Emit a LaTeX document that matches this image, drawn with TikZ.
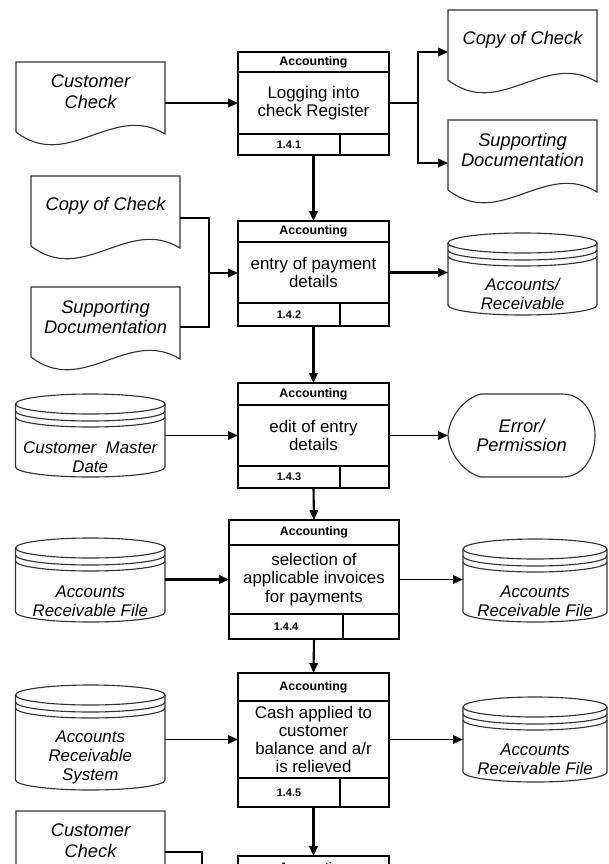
\documentclass[tikz,border=0pt]{standalone}
\usepackage{fontspec}
\setmainfont{Liberation Sans}
\usetikzlibrary{positioning,arrows.meta,calc}
\newlength{\pxu}
\setlength{\pxu}{0.025cm}

\begin{document}
\begin{tikzpicture}[x=0.025cm, y=-0.025cm, >={Triangle[length=7pt,width=6pt]},
  procbox/.style={draw, line width=2pt, inner sep=0pt, outer sep=0pt, align=center},
  prochead/.style={procbox, font=\bfseries\fontsize{8.8}{10}\selectfont},
  procbody/.style={procbox, font=\fontsize{12}{12.9}\selectfont},
  procnum/.style={procbox, font=\bfseries\fontsize{7.8}{9}\selectfont},
  docu/.style={inner sep=0pt, outer sep=0pt, minimum width=149*\pxu, minimum height=60*\pxu, align=center, font=\itshape\fontsize{13}{14.8}\selectfont},
  drum/.style={inner sep=0pt, outer sep=0pt},
  drumtxt/.style={inner sep=0pt, align=center, font=\itshape\fontsize{12}{13.5}\selectfont},
  errbox/.style={inner sep=0pt, outer sep=0pt, align=center, font=\itshape\fontsize{13}{13.8}\selectfont},
  outline/.style={draw=black!80, line width=0.8pt},
  flow/.style={->, line width=1.5pt},
  thinflow/.style={->, line width=0.8pt},
  link/.style={line width=1.5pt}]

  \useasboundingbox (0,0) rectangle (608,864);
  \clip (0,0) rectangle (608,864);
  \fill[white] (0,0) rectangle (608,864);

  % process boxes
  \node[procbody, minimum width=151*\pxu, minimum height=62*\pxu] (p1b) at (313.5,103) {Logging into\\check Register};
  \node[prochead, minimum width=151*\pxu, minimum height=20*\pxu, above=0pt of p1b] (p1h) {Accounting};
  \node[procnum, minimum width=102*\pxu, minimum height=21*\pxu, below right=0pt and 0pt of p1b.south west] (p1n) {1.4.1};
  \node[procnum, minimum width=49*\pxu, minimum height=21*\pxu, right=0pt of p1n] (p1x) {};

  \node[procbody, minimum width=151*\pxu, minimum height=61*\pxu] (p2b) at (313.5,272.5) {entry of payment\\details};
  \node[prochead, minimum width=151*\pxu, minimum height=21*\pxu, above=0pt of p2b] (p2h) {Accounting};
  \node[procnum, minimum width=102*\pxu, minimum height=23*\pxu, below right=0pt and 0pt of p2b.south west] (p2n) {1.4.2};
  \node[procnum, minimum width=49*\pxu, minimum height=23*\pxu, right=0pt of p2n] (p2x) {};

  \node[procbody, minimum width=151*\pxu, minimum height=61*\pxu] (p3b) at (313.5,435.5) {edit of entry\\details};
  \node[prochead, minimum width=151*\pxu, minimum height=22*\pxu, above=0pt of p3b] (p3h) {Accounting};
  \node[procnum, minimum width=102*\pxu, minimum height=22*\pxu, below right=0pt and 0pt of p3b.south west] (p3n) {1.4.3};
  \node[procnum, minimum width=49*\pxu, minimum height=22*\pxu, right=0pt of p3n] (p3x) {};

  \node[procbody, minimum width=170*\pxu, minimum height=69*\pxu] (p4b) at (314,579.5) {selection of\\applicable invoices\\for payments};
  \node[prochead, minimum width=170*\pxu, minimum height=25*\pxu, above=0pt of p4b] (p4h) {Accounting};
  \node[procnum, minimum width=114*\pxu, minimum height=25*\pxu, below right=0pt and 0pt of p4b.south west] (p4n) {1.4.4};
  \node[procnum, minimum width=56*\pxu, minimum height=25*\pxu, right=0pt of p4n] (p4x) {};

  \node[procbody, minimum width=151*\pxu, minimum height=77*\pxu] (p5b) at (313.5,739.5) {Cash applied to\\customer\\balance and a/r\\is relieved};
  \node[prochead, minimum width=151*\pxu, minimum height=28*\pxu, above=0pt of p5b] (p5h) {Accounting};
  \node[procnum, minimum width=102*\pxu, minimum height=29*\pxu, below right=0pt and 0pt of p5b.south west] (p5n) {1.4.5};
  \node[procnum, minimum width=49*\pxu, minimum height=29*\pxu, right=0pt of p5n] (p5x) {};

  \node[procbody, minimum width=151*\pxu, minimum height=70*\pxu] (p6b) at (313.5,915) {};
  \node[prochead, minimum width=151*\pxu, minimum height=24*\pxu, above=0pt of p6b] (p6h) {Accounting};

  % documents
  \node[docu] (cc1) at (90.5,92) {Customer\\Check};
  \node[docu] (cpy1) at (522.5,40) {Copy of Check};
  \node[docu] (sup1) at (522.5,150) {Supporting\\Documentation};
  \node[docu] (cpy2) at (105.5,206) {Copy of Check};
  \node[docu] (sup2) at (105.5,317) {Supporting\\Documentation};
  \node[docu] (cc2) at (90.5,841) {Customer\\Check};

  \foreach \n in {cc1,cpy1,sup1,cpy2,sup2,cc2}
    \draw[outline] ($(\n.south west)+(0,10)$) -- (\n.north west) -- (\n.north east) -- ($(\n.south east)+(0,12)$)
      .. controls ($(\n.south west)+(97,-20)$) and ($(\n.south west)+(52,50)$) .. ($(\n.south west)+(0,10)$);

  % data stores
  \node[drum, minimum width=149*\pxu, minimum height=82*\pxu] (ar1) at (522.5,274) {};
  \node[drum, minimum width=149.5*\pxu, minimum height=83*\pxu] (cmd) at (90.25,435.5) {};
  \node[drum, minimum width=149.5*\pxu, minimum height=84*\pxu] (arf1) at (90.25,580) {};
  \node[drum, minimum width=144*\pxu, minimum height=83*\pxu] (arf2) at (535,580.5) {};
  \node[drum, minimum width=149.5*\pxu, minimum height=105*\pxu] (ars) at (90.25,737.5) {};
  \node[drum, minimum width=144*\pxu, minimum height=85*\pxu] (arf3) at (535,739.5) {};

  \foreach \n/\r in {ar1/74.5, cmd/74.75, arf1/74.75, arf2/72, ars/74.75, arf3/72} {
    \draw[outline] ($(\n.north)+(0,10)$) ellipse [x radius=\r, y radius=10];
    \draw[outline] ($(\n.north west)+(0,10)$) -- ($(\n.south west)+(0,-10)$)
      arc[start angle=180, end angle=0, x radius=\r, y radius=10] -- ($(\n.north east)+(0,10)$);
    \foreach \d in {17,23}
      \draw[outline] ($(\n.north west)+(0,\d)$) arc[start angle=180, end angle=0, x radius=\r, y radius=10];
  }

  \node[drumtxt] (ar1t) at ([yshift=-20*\pxu]ar1.center) {Accounts/\\Receivable};
  \node[drumtxt] (cmdt) at ([yshift=-21.5*\pxu]cmd.center) {Customer\ \ Master\\Date};
  \node[drumtxt] (arf1t) at ([yshift=-21*\pxu]arf1.center) {Accounts\\Receivable File};
  \node[drumtxt] (arf2t) at ([yshift=-20.5*\pxu]arf2.center) {Accounts\\Receivable File};
  \node[drumtxt] (arst) at ([yshift=-19.5*\pxu]ars.center) {Accounts\\Receivable\\System};
  \node[drumtxt] (arf3t) at ([yshift=-19.5*\pxu]arf3.center) {Accounts\\Receivable File};

  % display
  \node[errbox, minimum width=147*\pxu, minimum height=83*\pxu] (err) at (521.5,435.5) {Error/\\Permission};
  \draw[outline, shift={(err.north west)}] (33,0) -- (114,0) .. controls (158,0) and (158,83) .. (114,83)
    -- (33,83) .. controls (14,78) and (1,58) .. (0,41.5) .. controls (1,25) and (14,5) .. cycle;

  % flows
  \coordinate (br1) at (418,103);
  \coordinate (j2) at (209,273);
  \coordinate (j6) at (202,900);

  \draw[flow] (p1b.west -| cc1.east) -- (p1b.west);
  \draw[flow] (p1b.east) -- (br1) |- ([yshift=-12*\pxu]cpy1.west);
  \draw[flow] (br1) |- ([yshift=-13*\pxu]sup1.west);
  \draw[flow] (p1b.south |- p1n.south) -- (p2h.north);

  \draw[link] ([yshift=-12*\pxu]cpy2.east) -| (j2);
  \draw[link] ([yshift=-10*\pxu]sup2.east) -| (j2);
  \draw[flow] (j2) -- (j2 -| p2b.west);
  \draw[flow] (p2b.east) -- (p2b.east -| ar1.west);
  \draw[flow] (p2b.south |- p2n.south) -- (p3h.north);

  \draw[thinflow] (p3b.west -| cmd.east) -- (p3b.west);
  \draw[thinflow] (p3b.east) -- (p3b.east -| err.west);
  \draw[flow] (p3b.south |- p3n.south) -- (p4h.north);

  \draw[flow] (p4b.west -| arf1.east) -- (p4b.west);
  \draw[thinflow] (p4b.east) -- (p4b.east -| arf2.west);
  \draw[flow] (p4b.south |- p4n.south) -- (p5h.north);

  \draw[thinflow] (p5b.west -| ars.east) -- (p5b.west);
  \draw[thinflow] (p5b.east) -- (p5b.east -| arf3.west);
  \draw[flow] (p5b.south |- p5n.south) -- (p6h.north);

  \draw[link] ([yshift=-11*\pxu]cc2.east) -| (j6);
\end{tikzpicture}
\end{document}
